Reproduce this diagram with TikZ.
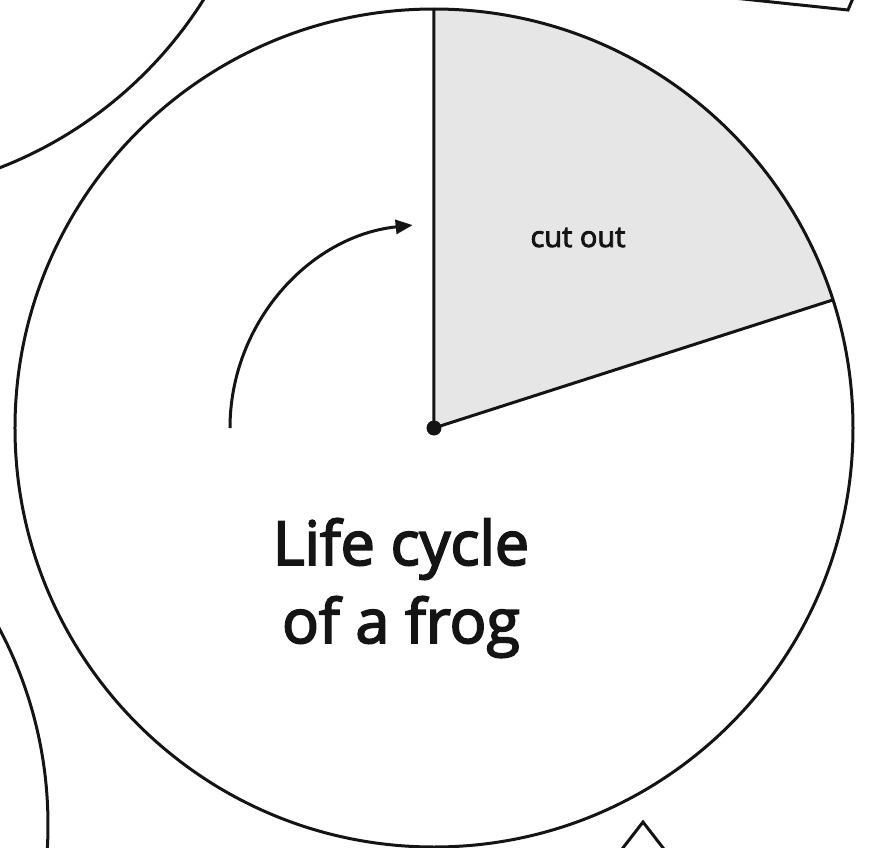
\documentclass[tikz,border=0pt]{standalone}
\usepackage{fontspec}
\setmainfont{Open Sans}
\newfontfamily\titlefont{Open Sans}[FakeBold=3]
\usepackage{tikz}
\usetikzlibrary{arrows.meta}
\definecolor{inkK}{HTML}{141414}
\definecolor{cutGray}{HTML}{E6E6E6}
\tikzset{
  wheelline/.style={inkK, line width=3pt},
  cutarrow/.style={-{Triangle[length=17pt, width=14pt]}, inkK, line width=3pt},
  pivot/.style={circle, fill=inkK, inner sep=0pt, minimum size=15pt},
  bigtitle/.style={align=center, font=\titlefont\fontsize{61}{78}\selectfont, text=inkK},
  cutlabel/.style={font=\titlefont\fontsize{29}{34}\selectfont, text=inkK},
}
\begin{document}
\begin{tikzpicture}[x=1pt, y=1pt]
  \useasboundingbox (-434,-419) rectangle (439,428);
  \clip (-434,-419) rectangle (439,428);
  % neighbouring pieces, mostly off the page
  \draw[wheelline] (-586,652) circle[radius=420];
  \draw[wheelline] (-806,-397) circle[radius=420];
  \draw[wheelline] (290,431) -- (414,418) -- (419.5,431);
  \draw[wheelline] (185,-425) -- (209,-394) -- (233,-425);
  % the wheel
  \coordinate (hub) at (0,0);
  \fill[cutGray] (hub) -- (90:419) arc[start angle=90, end angle=17.8, radius=419] -- cycle;
  \draw[wheelline] (hub) circle[radius=419];
  \draw[wheelline] (90:419) -- (hub) -- (17.8:419);
  \node[pivot] (pin) at (hub) {};
  \draw[cutarrow] (180:204) arc[start angle=180, end angle=96, radius=204];
  \node[cutlabel, anchor=base] (cutout) at (144,181) {cut out};
  \node[bigtitle, anchor=base] (title) at (-33,-215) {Life cycle\\of a frog};
\end{tikzpicture}
\end{document}
